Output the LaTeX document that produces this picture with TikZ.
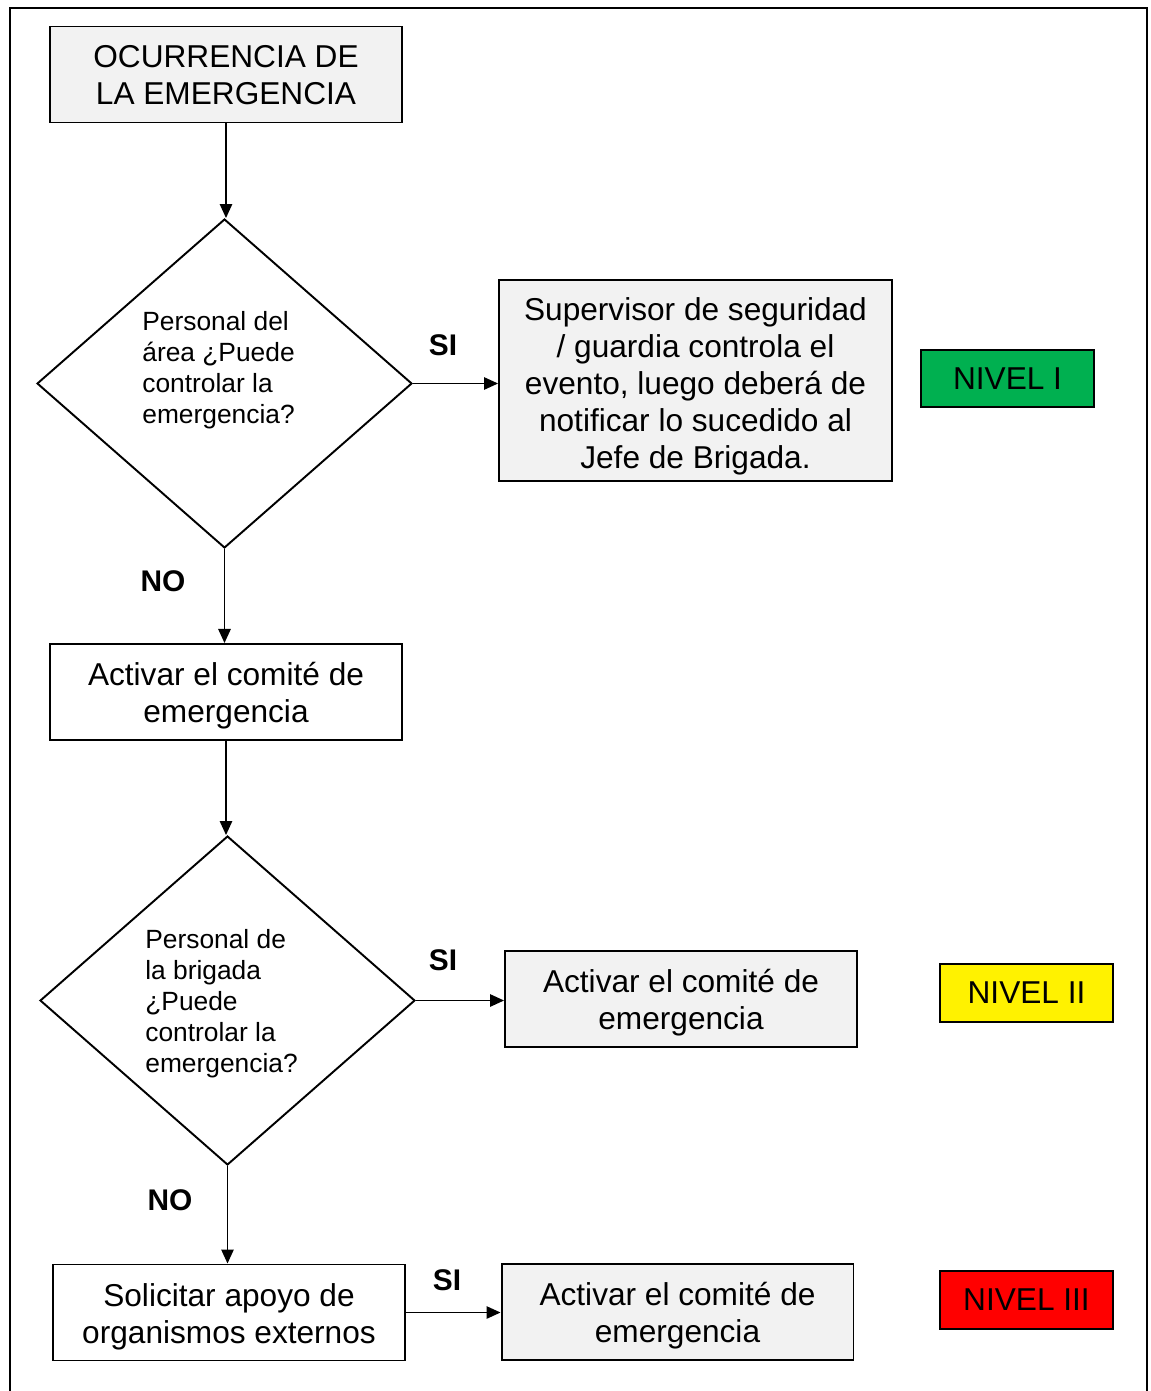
\documentclass[tikz,border=0pt]{standalone}
\usepackage{fontspec}
\setmainfont{Liberation Sans}
\usetikzlibrary{shapes.geometric,arrows.meta}

\definecolor{grisclaro}{HTML}{F2F2F2}
\definecolor{verdenivel}{HTML}{00B050}

\begin{document}
\begin{tikzpicture}[x=0.02cm, y=-0.02cm,
    caja/.style={draw, line width=1.1pt, minimum width=7.04cm, minimum height=1.92cm,
      align=center, inner sep=0pt, text height=38.5pt, font=\fontsize{18}{21}\selectfont},
    rombo/.style={draw, line width=1.1pt, shape=diamond, inner sep=0pt,
      minimum width=7.5cm, minimum height=6.58cm},
    pregunta/.style={align=left, anchor=west, inner sep=0pt,
      font=\fontsize{15}{17.6}\selectfont},
    nivel/.style={draw, line width=1.1pt, minimum width=3.46cm, minimum height=1.15cm,
      inner sep=0pt, font=\fontsize{18}{21}\selectfont},
    etiqueta/.style={font=\fontsize{17}{20}\selectfont\bfseries, inner sep=0pt},
    flecha/.style={line width=1.1pt, -{Triangle[length=8pt,width=7pt]}}]

      % Marco
      \useasboundingbox (0,0) rectangle (1151,1391);
      \draw[line width=1.3pt] (10,1395) -- (10,8) -- (1147,8) -- (1147,1395);

      % Inicio
      \node[caja, fill=grisclaro, text height=34pt] (ocurrencia) at (226,74.5)
        {OCURRENCIA DE\\LA EMERGENCIA};

      % Primera pregunta
      \node[rombo] (rombo1) at (224.5,383.5) {};
      \node[pregunta] (pregunta1) at (142,370)
        {Personal del\\área ¿Puede\\controlar la\\emergencia?};
      \node[caja, fill=grisclaro, minimum width=7.86cm, minimum height=4.02cm, text height=104pt]
        (supervisor) at (695.5,380.5)
        {Supervisor de seguridad\\/ guardia controla el\\evento, luego deberá de\\notificar lo sucedido al\\Jefe de Brigada.};
      \node[nivel, fill=verdenivel] (nivelI) at (1007.5,378.5) {NIVEL I};
      \node[etiqueta] (si1) at (443,345) {SI};
      \node[etiqueta] (no1) at (163,581) {NO};

      % Comité
      \node[caja] (comite) at (226,692) {Activar el comité de\\emergencia};

      % Segunda pregunta
      \node[rombo] (rombo2) at (227.5,1000.5) {};
      \node[pregunta] (pregunta2) at (145,1004)
        {Personal de\\la brigada\\¿Puede\\controlar la\\emergencia?};
      \node[caja, fill=grisclaro] (activarII) at (681,999) {Activar el comité de\\emergencia};
      \node[nivel, fill=yellow] (nivelII) at (1026.5,993) {NIVEL II};
      \node[etiqueta] (si2) at (443,960) {SI};
      \node[etiqueta] (no2) at (170,1200) {NO};

      % Apoyo externo
      \node[caja] (solicitar) at (229,1312.5) {Solicitar apoyo de\\organismos externos};
      \node[caja, fill=grisclaro] (activarIII) at (677.5,1312) {Activar el comité de\\emergencia};
      \node[nivel, fill=red] (nivelIII) at (1026.5,1300) {NIVEL III};
      \node[etiqueta] (si3) at (447,1280) {SI};

      % Flechas
      \draw[flecha] (ocurrencia.south) -- (ocurrencia.south |- rombo1.north);
      \draw[flecha] (rombo1.east) -- (supervisor.west |- rombo1.east);
      \draw[flecha] (rombo1.south) -- (rombo1.south |- comite.north);
      \draw[flecha] (comite.south) -- (comite.south |- rombo2.north);
      \draw[flecha] (rombo2.east) -- (activarII.west |- rombo2.east);
      \draw[flecha] (rombo2.south) -- (rombo2.south |- solicitar.north);
      \draw[flecha] (solicitar.east) -- (activarIII.west |- solicitar.east);

    \end{tikzpicture}
\end{document}
